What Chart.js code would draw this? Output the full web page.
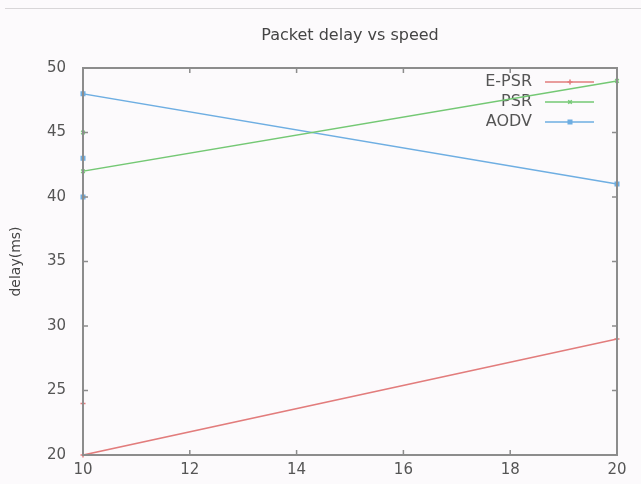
<!DOCTYPE html>
<html>
<head>
<meta charset="utf-8">
<script src="https://cdn.jsdelivr.net/npm/chart.js@4/dist/chart.umd.min.js"></script>
<style>
  html, body { margin: 0; padding: 0; background: #fcfafc; }
  #wrap { width: 641px; height: 484px; }
</style>
</head>
<body>
<div id="wrap"><canvas id="chart1" width="641" height="484"></canvas></div>
<script>
// speed (x) and delay (y) for each protocol, in plot order
const ePsrSpeed = [10, 10, 20];
const ePsrDelay = [24, 20, 29];
const psrSpeed = [10, 10, 20];
const psrDelay = [45, 42, 49];
const aodvSpeed = [10, 10, 10, 20];
const aodvDelay = [43, 40, 48, 41];

const seriesNames = ['E-PSR', 'PSR', 'AODV'];
const chartTitle = 'Packet delay vs speed';
const xTicks = [10, 12, 14, 16, 18, 20];
const yTicks = [20, 25, 30, 35, 40, 45, 50];

Chart.defaults.font.family = 'DejaVu Sans';

function toPoints(xs, ys) {
  return xs.map((x, i) => ({ x: x, y: ys[i] }));
}

const colors = ['#e27c7c', '#74c874', '#6eaee2'];
const styles = ['cross', 'crossRot', 'rect'];

//background + the faint line at the top of the screenshot
const bgPlugin = {
  id: 'bg',
  beforeDraw(chart) {
    const ctx = chart.ctx;
    ctx.save();
    ctx.fillStyle = '#fcfafc';
    ctx.fillRect(0, 0, chart.width, chart.height);
    ctx.strokeStyle = '#d8d6d8';
    ctx.lineWidth = 1;
    ctx.beginPath();
    ctx.moveTo(5, 8.5);
    ctx.lineTo(chart.width, 8.5);
    ctx.stroke();
    ctx.restore();
  }
};

//title centred over the plot box (gnuplot does it that way)
const titlePlugin = {
  id: 'plotTitle',
  afterDraw(chart) {
    const ctx = chart.ctx;
    const a = chart.chartArea;
    ctx.save();
    ctx.font = '16px "DejaVu Sans"';
    ctx.fillStyle = '#444';
    ctx.textAlign = 'center';
    ctx.textBaseline = 'middle';
    ctx.fillText(chartTitle, (a.left + a.right) / 2, 36);
    ctx.restore();
  }
};

//gnuplot style frame with inward ticks
const framePlugin = {
  id: 'frame',
  afterDraw(chart) {
    const ctx = chart.ctx;
    const a = chart.chartArea;
    const xs = chart.scales.x, ys = chart.scales.y;
    ctx.save();
    ctx.strokeStyle = '#8c8c8c';
    ctx.lineWidth = 2;
    ctx.strokeRect(a.left, a.top, a.right - a.left, a.bottom - a.top);
    ctx.lineWidth = 1.5;
    ctx.beginPath();
    xTicks.forEach(v => {
      const px = xs.getPixelForValue(v);
      ctx.moveTo(px, a.bottom); ctx.lineTo(px, a.bottom - 5);
      ctx.moveTo(px, a.top); ctx.lineTo(px, a.top + 5);
    });
    yTicks.forEach(v => {
      const py = ys.getPixelForValue(v);
      ctx.moveTo(a.left, py); ctx.lineTo(a.left + 5, py);
      ctx.moveTo(a.right, py); ctx.lineTo(a.right - 5, py);
    });
    ctx.stroke();
    ctx.restore();
  }
};

//legend inside the top right corner
const keyPlugin = {
  id: 'key',
  beforeDatasetsDraw(chart) {
    const ctx = chart.ctx;
    const a = chart.chartArea;
    ctx.save();
    ctx.font = '16px "DejaVu Sans"';
    ctx.textAlign = 'right';
    ctx.textBaseline = 'middle';
    chart.data.datasets.forEach((ds, i) => {
      const y = a.top + 14 + i * 20;
      ctx.fillStyle = '#555';
      ctx.fillText(ds.label, a.right - 85, y);
      ctx.strokeStyle = ds.borderColor;
      ctx.lineWidth = 1.5;
      ctx.beginPath();
      ctx.moveTo(a.right - 72, y);
      ctx.lineTo(a.right - 23, y);
      ctx.stroke();
      ctx.fillStyle = ds.borderColor;
      Chart.helpers.drawPoint(ctx, { pointStyle: ds.pointStyle, radius: 2.5, rotation: 0, borderWidth: 1.5 }, a.right - 47, y);
    });
    ctx.restore();
  }
};

const allSeries = [
  toPoints(ePsrSpeed, ePsrDelay),
  toPoints(psrSpeed, psrDelay),
  toPoints(aodvSpeed, aodvDelay)
];

const chart1 = new Chart(document.getElementById('chart1'), {
  type: 'scatter',
  data: {
    datasets: allSeries.map((pts, i) => ({
      label: seriesNames[i],
      data: pts,
      showLine: true,
      borderColor: colors[i],
      backgroundColor: colors[i],
      borderWidth: 1.5,
      pointStyle: styles[i],
      pointRadius: 2.5,
      pointBorderWidth: 1.5,
      clip: false
    }))
  },
  options: {
    responsive: false,
    animation: false,
    layout: { padding: { left: 0, right: 24, top: 68, bottom: 0 } },
    plugins: {
      legend: { display: false },
      tooltip: { enabled: false },
      title: { display: false }
    },
    scales: {
      x: {
        type: 'linear',
        min: 10, max: 20,
        afterFit: (s) => { s.height = 29; },
        grid: { display: false, drawTicks: false },
        border: { display: false },
        ticks: { stepSize: 2, color: '#555', font: { size: 15 }, padding: 6, maxRotation: 0 }
      },
      y: {
        min: 20, max: 50,
        afterFit: (s) => { s.width = 83; },
        grid: { display: false, drawTicks: false },
        border: { display: false },
        title: { display: true, text: 'delay(ms)', color: '#444', font: { size: 14 }, padding: { top: 8, bottom: 0 } },
        ticks: { stepSize: 5, color: '#555', font: { size: 15 }, padding: 17 }
      }
    }
  },
  plugins: [bgPlugin, keyPlugin, framePlugin, titlePlugin]
});
</script>
</body>
</html>
